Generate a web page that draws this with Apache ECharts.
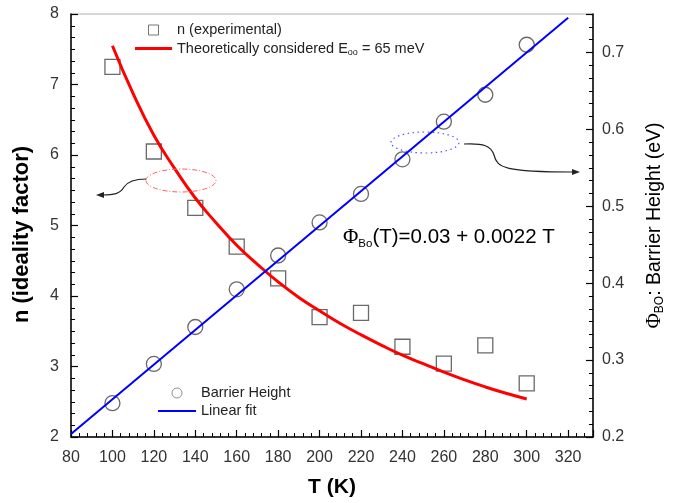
<!DOCTYPE html>
<html><head><meta charset="utf-8">
<script src="https://cdn.jsdelivr.net/npm/echarts@6/dist/echarts.min.js"></script>
<style>html,body{margin:0;padding:0;background:#fff}#c{width:676px;height:503px}</style>
</head><body><div id="c"></div>
<script>
// ---- data ----
const temperatures = [100, 120, 140, 160, 180, 200, 220, 240, 260, 280, 300];
const nExperimental = [7.25, 6.05, 5.25, 4.70, 4.25, 3.70, 3.76, 3.28, 3.04, 3.30, 2.76];
const barrierHeight = [0.244, 0.295, 0.343, 0.392, 0.436, 0.479, 0.516, 0.561, 0.610, 0.645, 0.710];
const theoryT = [100, 110, 120, 130, 140, 150, 160, 170, 180, 190, 200, 210, 220, 230, 240, 250, 260, 270, 280, 290, 300];
const nTheory = [7.55, 6.87, 6.28, 5.81, 5.39, 5.04, 4.72, 4.45, 4.20, 3.98, 3.79, 3.61, 3.45, 3.30, 3.16, 3.04, 2.92, 2.81, 2.71, 2.62, 2.54];
const fitT = [80, 320];
const fitPhi = [0.204, 0.745];
const xTickLabels = [80, 100, 120, 140, 160, 180, 200, 220, 240, 260, 280, 300, 320];
const nTickLabels = [2, 3, 4, 5, 6, 7, 8];
const phiTickLabels = [0.2, 0.3, 0.4, 0.5, 0.6, 0.7];

const SANS = 'Liberation Sans, Arial, sans-serif';
const SERIF = 'Liberation Serif, Times New Roman, serif';
const zip = (a, b) => a.map((v, i) => [v, b[i]]);

const chart = echarts.init(document.getElementById('c'), null, {renderer: 'canvas'});
const axisLineStyle = {color: '#000', width: 1.5};
const labelStyle = {color: '#333', fontSize: 16, fontFamily: SANS};

function curve(x1, y1, cpx1, cpy1, cpx2, cpy2, x2, y2) {
  return {type: 'bezierCurve', z: 10, shape: {x1, y1, cpx1, cpy1, cpx2, cpy2, x2, y2},
    style: {fill: 'none', stroke: '#222', lineWidth: 1.2}};
}

const option = {
  animation: false,
  backgroundColor: '#fff',
  grid: {left: 71, right: 83, top: 14, bottom: 63, show: true, borderColor: '#b0b0b0', borderWidth: 1, backgroundColor: 'transparent'},
  xAxis: [
    {
      type: 'value', min: 80, max: 332, interval: 20,
      axisLine: {show: true, onZero: false, lineStyle: axisLineStyle},
      axisTick: {show: true, inside: true, length: 7, lineStyle: {color: '#000', width: 1.2}},
      splitLine: {show: false},
      axisLabel: {...labelStyle, margin: 13,
        formatter: v => xTickLabels.includes(v) ? String(v) : ''},
      name: 'T (K)', nameLocation: 'middle', nameGap: 40,
      nameTextStyle: {fontSize: 21, fontWeight: 'bold', color: '#000', fontFamily: SANS}
    },
    { // minor ticks every 4 K
      type: 'value', min: 0, max: 63, interval: 1, position: 'bottom',
      axisLine: {show: false, onZero: false},
      axisTick: {show: true, inside: true, length: 4, lineStyle: {color: '#000', width: 1}},
      axisLabel: {show: false}, splitLine: {show: false}
    }
  ],
  yAxis: [
    {
      type: 'value', min: 2, max: 8, interval: 1, position: 'left',
      axisLine: {show: true, onZero: false, lineStyle: axisLineStyle},
      axisTick: {show: true, inside: true, length: 7, lineStyle: {color: '#000', width: 1.2}},
      minorTick: {show: true, splitNumber: 6, length: 4, lineStyle: {color: '#000', width: 1}},
      splitLine: {show: false},
      axisLabel: {...labelStyle, margin: 12,
        formatter: v => nTickLabels.includes(v) ? String(v) : ''},
      name: 'n (ideality factor)', nameLocation: 'middle', nameGap: 38, nameRotate: 90,
      nameTextStyle: {fontSize: 22, fontWeight: 'bold', color: '#000', fontFamily: SANS, padding: [0, 18, 0, 0]}
    },
    {
      type: 'value', min: 0.2, max: 0.75, interval: 0.1, position: 'right',
      axisLine: {show: true, onZero: false, lineStyle: axisLineStyle},
      axisTick: {show: true, inside: true, length: 7, lineStyle: {color: '#000', width: 1.2}},
      splitLine: {show: false},
      axisLabel: {...labelStyle, margin: 9,
        formatter: v => phiTickLabels.some(t => Math.abs(t - v) < 1e-6) ? v.toFixed(1) : ''},
      name: '{p|Φ}{s|BO}{t|: Barrier Height (eV)}', nameLocation: 'middle', nameGap: 50, nameRotate: 90,
      nameTextStyle: {color: '#000', rich: {
        p: {fontFamily: SERIF, fontSize: 21, color: '#000', lineHeight: 23},
        s: {fontFamily: SANS, fontSize: 12, color: '#000', verticalAlign: 'bottom', lineHeight: 23},
        t: {fontFamily: SANS, fontSize: 19.5, color: '#000', lineHeight: 23}
      }}
    },
    { // minor ticks on right axis
      type: 'value', min: 0, max: 33, interval: 1, position: 'right',
      axisLine: {show: false, onZero: false},
      axisTick: {show: true, inside: true, length: 4, lineStyle: {color: '#000', width: 1}},
      axisLabel: {show: false}, splitLine: {show: false}
    }
  ],
  legend: [
    {
      left: 135, top: 22, orient: 'vertical', padding: 0, itemWidth: 37, itemHeight: 10, itemGap: 2,
      textStyle: {fontSize: 14.5, lineHeight: 16, color: '#222', fontFamily: SANS,
        rich: {a: {fontSize: 14.5, color: '#222', fontFamily: SANS, lineHeight: 16},
               s: {fontSize: 9, color: '#222', fontFamily: SANS, verticalAlign: 'bottom', lineHeight: 17}}},
      formatter: name => name.indexOf('Theoretically') === 0 ? '{a|Theoretically considered E}{s|oo}{a| = 65 meV}' : name,
      data: [
        {name: 'n (experimental)', icon: 'path://M0,0H10V10H0Z', itemStyle: {color: 'transparent', borderColor: '#555', borderWidth: 1}},
        {name: 'Theoretically considered Eoo = 65 meV', icon: 'path://M0,0H37V3H0Z', itemStyle: {color: '#ff0000', borderWidth: 0}}
      ]
    },
    {
      left: 158, top: 385, orient: 'vertical', padding: 0, itemWidth: 38, itemHeight: 10, itemGap: 2,
      textStyle: {fontSize: 14.5, lineHeight: 16, color: '#222', fontFamily: SANS},
      data: [
        {name: 'Barrier Height', icon: 'path://M0,5A5,5 0 1,1 10,5A5,5 0 1,1 0,5Z', itemStyle: {color: 'transparent', borderColor: '#777', borderWidth: 1}},
        {name: 'Linear fit', icon: 'path://M0,0H38V2H0Z', itemStyle: {color: '#0000ff', borderWidth: 0}}
      ]
    }
  ],
  series: [
    {
      name: 'n (experimental)', type: 'scatter', xAxisIndex: 0, yAxisIndex: 0,
      symbol: 'rect', symbolSize: 15, z: 3,
      itemStyle: {color: 'rgba(0,0,0,0)', borderColor: '#444', borderWidth: 1.3},
      data: zip(temperatures, nExperimental)
    },
    {
      name: 'Theoretically considered Eoo = 65 meV', type: 'line', xAxisIndex: 0, yAxisIndex: 0,
      smooth: true, symbol: 'none', z: 4,
      lineStyle: {color: '#ff0000', width: 3}, itemStyle: {color: '#ff0000'},
      data: zip(theoryT, nTheory)
    },
    {
      name: 'Barrier Height', type: 'scatter', xAxisIndex: 0, yAxisIndex: 1,
      symbol: 'circle', symbolSize: 15, z: 3,
      itemStyle: {color: 'rgba(0,0,0,0)', borderColor: '#444', borderWidth: 1.3},
      data: zip(temperatures, barrierHeight)
    },
    {
      name: 'Linear fit', type: 'line', xAxisIndex: 0, yAxisIndex: 1,
      symbol: 'none', z: 4,
      lineStyle: {color: '#0000ff', width: 2}, itemStyle: {color: '#0000ff'},
      data: zip(fitT, fitPhi)
    }
  ],
  graphic: [
    {type: 'ellipse', shape: {cx: 181, cy: 180.5, rx: 35, ry: 11.5}, z: 10,
      style: {fill: 'none', stroke: '#ff6060', lineWidth: 1, lineDash: [5, 2, 1, 2]}},
    curve(146, 179, 136, 179, 128, 181, 124, 187),
    curve(124, 187, 120, 194, 114, 195, 102, 195),
    {type: 'polygon', shape: {points: [[96, 195], [104, 192], [104, 198]]}, z: 10, style: {fill: '#222'}},
    {type: 'ellipse', shape: {cx: 425, cy: 142.5, rx: 34, ry: 10.5}, z: 10,
      style: {fill: 'none', stroke: '#5050ff', lineWidth: 1.2, lineDash: [1.5, 3.5]}},
    curve(464, 144, 484, 143, 491, 146, 494, 155),
    curve(494, 155, 497, 168, 505, 172, 573, 172),
    {type: 'polygon', shape: {points: [[580, 172], [572, 169], [572, 175]]}, z: 10, style: {fill: '#222'}},
    {type: 'text', x: 343, y: 237, z: 10,
      style: {text: '{p|Φ}{s|Bo}{t|(T)=0.03 + 0.0022 T}', verticalAlign: 'middle', align: 'left',
        rich: {
          p: {fontFamily: SERIF, fontSize: 21, fill: '#000', lineHeight: 25},
          s: {fontFamily: SANS, fontSize: 11.5, fill: '#000', verticalAlign: 'bottom', lineHeight: 25},
          t: {fontFamily: SANS, fontSize: 20.5, fill: '#000', lineHeight: 25}
        }}}
  ]
};
chart.setOption(option);
</script>
</body></html>
